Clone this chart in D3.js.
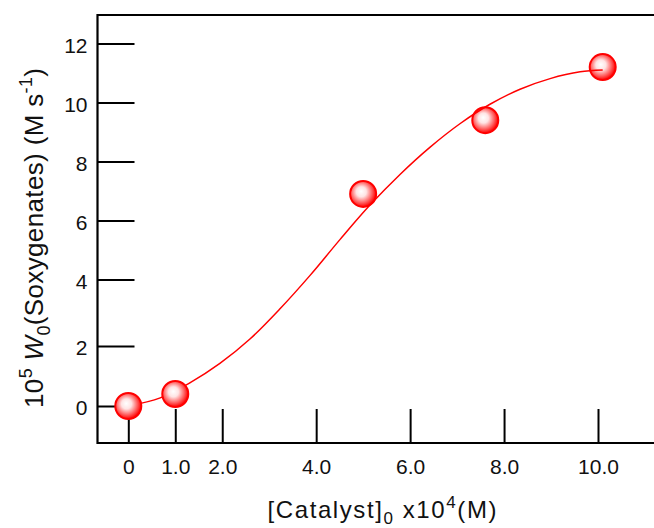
<!DOCTYPE html>
<html>
<head>
<meta charset="utf-8">
<script src="https://cdn.jsdelivr.net/npm/d3@7"></script>
<style>
  body { margin: 0; background: #fff; }
  text { font-family: Arial, "Liberation Sans", sans-serif; fill: #111; }
</style>
</head>
<body>
<div id="chart"></div>
<script>
var width = 654;
var height = 528;

// tick values
var xTicks = [0, 1, 2, 4, 6, 8, 10];
var yTicks = [0, 2, 4, 6, 8, 10, 12];

// measured points
var catalyst = [0, 1.0, 5.0, 7.6, 10.1];
var rate = [0, 0.4, 6.9, 9.4, 11.2];

// fitted curve
var fitX = [0, 0.68, 1.31, 1.95, 2.59, 3.23, 3.87, 4.51, 5.15, 5.79, 6.42, 7.06, 7.70, 8.34, 8.98, 9.62, 10.1];
var fitY = [0, 0.27, 0.77, 1.42, 2.21, 3.12, 4.14, 5.36, 6.53, 7.57, 8.48, 9.28, 9.94, 10.45, 10.81, 11.04, 11.10];

var frameLeft = 97.5, frameTop = 15, frameBottom = 443;

var x = d3.scaleLinear().domain([0, 10]).range([128.3, 598]);
// the original axis is hand drawn, spacing is not quite even
var y = d3.scaleLinear().domain([0, 2, 4, 12]).range([406, 346, 279.5, 43.5]);

var svg = d3.select('#chart').append('svg')
    .attr('width', width)
    .attr('height', height);

var defs = svg.append('defs');
var grad = defs.append('radialGradient')
    .attr('id', 'ball')
    .attr('cx', '45%').attr('cy', '45%').attr('r', '55%')
    .attr('fx', '42%').attr('fy', '40%');
grad.append('stop').attr('offset', '0%').attr('stop-color', '#ffffff');
grad.append('stop').attr('offset', '35%').attr('stop-color', '#ffe4e4');
grad.append('stop').attr('offset', '75%').attr('stop-color', '#ff5a5a');
grad.append('stop').attr('offset', '100%').attr('stop-color', '#ff0000');

// frame (right side runs off the picture)
svg.append('path')
    .attr('d', 'M' + width + ',' + frameTop + 'H' + frameLeft + 'V' + frameBottom + 'H' + width)
    .attr('fill', 'none')
    .attr('stroke', '#000')
    .attr('stroke-width', 2.2);

var yAxis = svg.append('g')
    .attr('transform', 'translate(' + frameLeft + ',0)')
    .call(d3.axisLeft(y).tickValues(yTicks).tickSize(-37).tickPadding(10).tickFormat(d3.format('d')));

var xAxis = svg.append('g')
    .attr('transform', 'translate(0,' + frameBottom + ')')
    .call(d3.axisBottom(x).tickValues(xTicks).tickSize(-34).tickPadding(16)
        .tickFormat(function(d) { return d === 0 ? '0' : d.toFixed(1); }));

svg.selectAll('.domain').remove();
svg.selectAll('.tick line').attr('stroke', '#000').attr('stroke-width', 2);
svg.selectAll('.tick text')
    .style('font-size', '21px')
    .attr('fill', '#111');
yAxis.selectAll('.tick text').attr('dy', '0.42em');

var points = catalyst.map(function(c, i) { return {x: c, y: rate[i]}; });

function drawBalls(data) {
    svg.append('g').selectAll('circle')
        .data(data)
        .enter().append('circle')
        .attr('cx', function(d) { return x(d.x); })
        .attr('cy', function(d) { return y(d.y); })
        .attr('r', 13)
        .attr('fill', 'url(#ball)')
        .attr('stroke', '#ff0000')
        .attr('stroke-width', 2);
}

// upper balls sit under the curve, the two low ones over it
drawBalls(points.filter(function(d) { return d.x > 2; }));

var line = d3.line()
    .x(function(d, i) { return x(fitX[i]); })
    .y(function(d, i) { return y(fitY[i]); })
    .curve(d3.curveCatmullRom);

svg.append('path')
    .attr('d', line(fitX))
    .attr('fill', 'none')
    .attr('stroke', '#ff0000')
    .attr('stroke-width', 1.5);

drawBalls(points.filter(function(d) { return d.x <= 2; }));

// axis titles
var xt = svg.append('text')
    .attr('x', 382)
    .attr('y', 518)
    .attr('text-anchor', 'middle')
    .attr('textLength', 229)
    .attr('lengthAdjust', 'spacing')
    .style('font-size', '24px');
xt.append('tspan').text('[Catalyst]');
xt.append('tspan').attr('dy', 6).style('font-size', '17px').text('0');
xt.append('tspan').attr('dy', -6).text(' x10');
xt.append('tspan').attr('dy', -10).style('font-size', '17px').text('4');
xt.append('tspan').attr('dy', 10).text('(M)');

var yt = svg.append('text')
    .attr('transform', 'translate(43,238) rotate(-90)')
    .attr('text-anchor', 'middle')
    .attr('textLength', 340)
    .attr('lengthAdjust', 'spacing')
    .style('font-size', '26px');
yt.append('tspan').text('10');
yt.append('tspan').attr('dy', -11).style('font-size', '18px').text('5');
yt.append('tspan').attr('dy', 11).text(' ');
yt.append('tspan').style('font-style', 'italic').text('W');
yt.append('tspan').attr('dy', 7).style('font-size', '18px').text('0');
yt.append('tspan').attr('dy', -7).text('(Soxygenates) (M s');
yt.append('tspan').attr('dy', -11).style('font-size', '18px').text('-1');
yt.append('tspan').attr('dy', 11).text(')');
</script>
</body>
</html>
